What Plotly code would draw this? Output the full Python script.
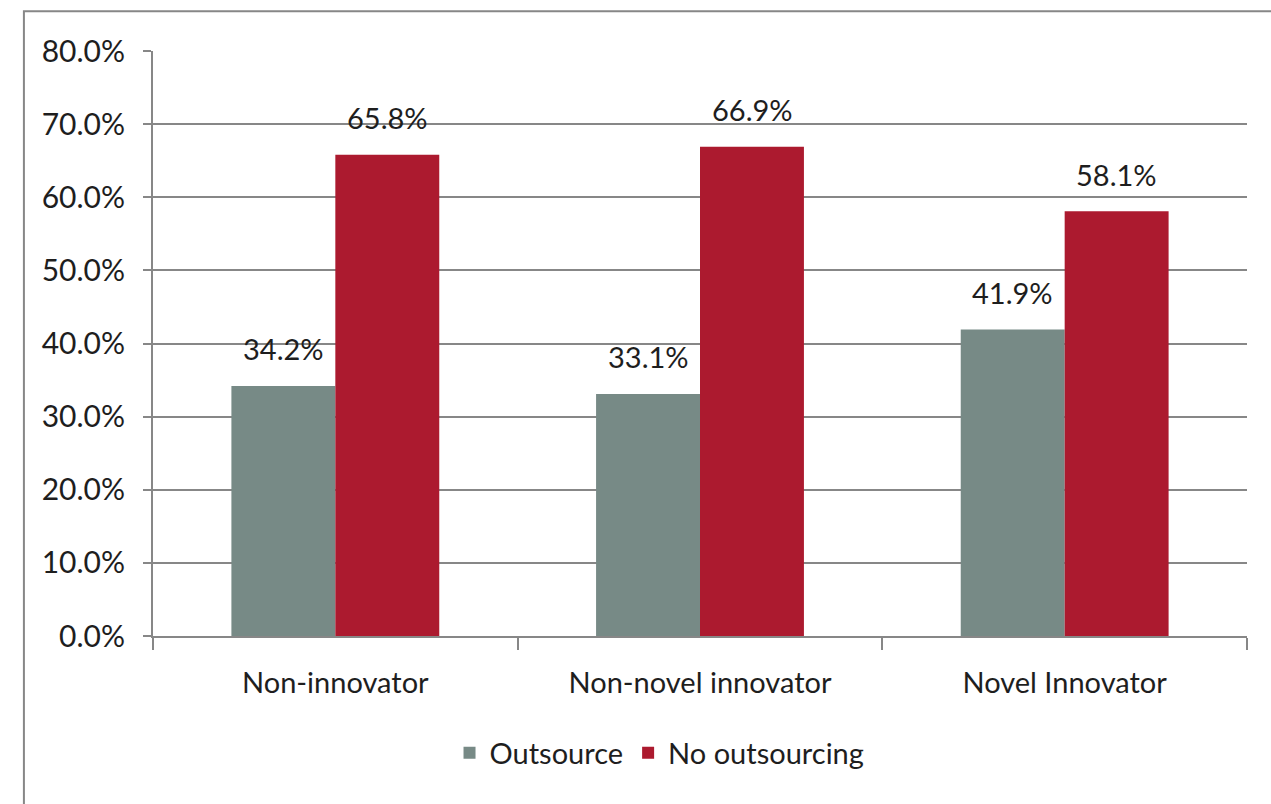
import plotly.graph_objects as go

categories = ["Non-innovator", "Non-novel innovator", "Novel Innovator"]
outsource = [34.2, 33.1, 41.9]
no_outsourcing = [65.8, 66.9, 58.1]
y_ticks = [0, 10, 20, 30, 40, 50, 60, 70, 80]

GRAY = "#778a86"
RED = "#ac1a2f"
LINE = "#878787"
FONT = "Lato"
TXT = "#1e1e1e"

fig = go.Figure()
fig.add_trace(go.Bar(name="Outsource", x=categories, y=outsource,
                     marker=dict(color=GRAY, line=dict(width=0))))
fig.add_trace(go.Bar(name="No outsourcing", x=categories, y=no_outsourcing,
                     marker=dict(color=RED, line=dict(width=0))))

# value labels floating above each bar
half_bar_px = 52
for vals, shift in ((outsource, -half_bar_px), (no_outsourcing, half_bar_px)):
    for c, v in zip(categories, vals):
        fig.add_annotation(x=c, y=v, text=f"{v:.1f}%", showarrow=False,
                           xshift=shift, yshift=37, yanchor="middle",
                           font=dict(family=FONT, size=29, color=TXT))

# outer chart frame
fig.add_shape(type="rect", xref="paper", yref="paper",
              x0=-0.118, x1=1.2, y0=-0.4, y1=1.068,
              line=dict(color=LINE, width=2), layer="below")

fig.update_layout(
    width=1271, height=804,
    margin=dict(l=153, r=24, t=51, b=168),
    paper_bgcolor="white", plot_bgcolor="white",
    barmode="group", bargap=0.43, bargroupgap=0,
    font=dict(family=FONT, size=29, color=TXT),
    showlegend=True,
    legend=dict(orientation="h", x=0.463, xanchor="center", y=-0.2, yanchor="middle",
                font=dict(family=FONT, size=29, color=TXT),
                itemwidth=30, traceorder="normal"),
)
fig.update_yaxes(range=[0, 80], tickvals=y_ticks,
                 ticktext=[f"{t:.1f}%" for t in y_ticks],
                 tickfont=dict(family=FONT, size=30, color=TXT),
                 showgrid=True, gridcolor=LINE, gridwidth=2,
                 showline=True, linecolor=LINE, linewidth=2,
                 ticks="outside", ticklen=8, tickcolor=LINE, tickwidth=2,
                 ticklabelstandoff=12, zeroline=False)
fig.update_xaxes(showline=True, linecolor=LINE, linewidth=2,
                 tickson="boundaries", ticks="outside", ticklen=12,
                 tickcolor=LINE, tickwidth=2, ticklabelstandoff=20,
                 showgrid=False)

fig.write_html("out.html")
